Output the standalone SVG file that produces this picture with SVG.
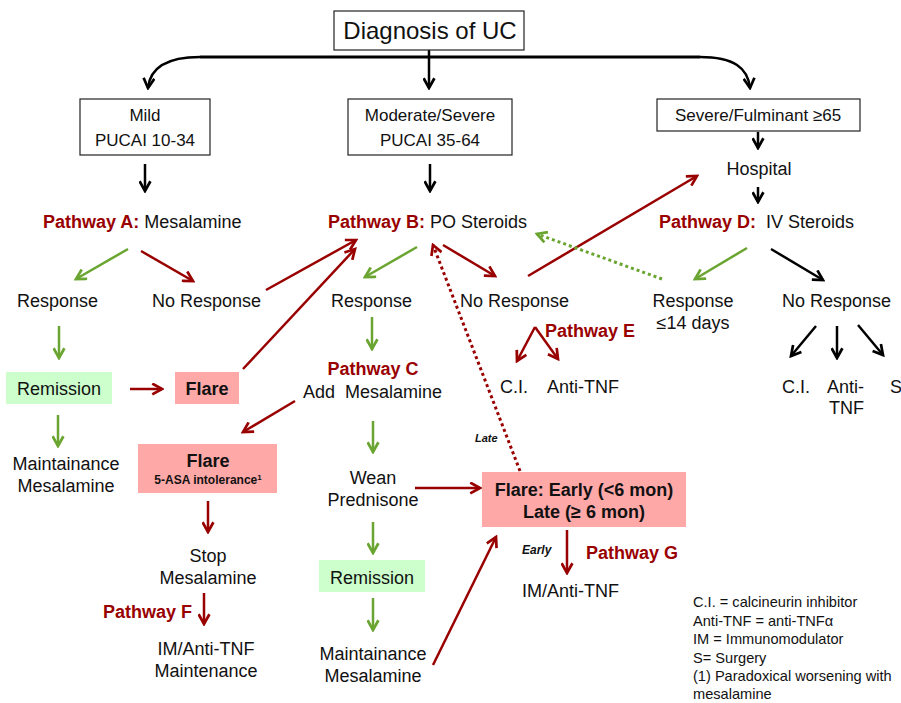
<svg xmlns="http://www.w3.org/2000/svg" width="901" height="703" viewBox="0 0 901 703">
<defs>
<style>
text{font-family:"Liberation Sans",Arial,sans-serif;font-size:18px;fill:#111}
.c{text-anchor:middle}
.b{font-weight:bold}
.r{fill:#990000;font-weight:bold}
.box{fill:#fff;stroke:#222;stroke-width:1.2}
.pink{fill:#ffa8a8}
.grn{fill:#ccffcc}
.k{stroke:#000;stroke-width:2.5;fill:none;marker-end:url(#ak)}
.kt{stroke:#000;stroke-width:3;fill:none}
.rd{stroke:#990000;stroke-width:2.5;fill:none;marker-end:url(#ar)}
.gr{stroke:#6aa531;stroke-width:2.5;fill:none;marker-end:url(#ag)}
.rdot{stroke:#990000;stroke-width:3;stroke-dasharray:3,3;fill:none;marker-end:url(#ar)}
.gdot{stroke:#6aa531;stroke-width:3;stroke-dasharray:3,3;fill:none;marker-end:url(#ag)}
.leg{font-size:14.6px}
.sm{font-size:12px;font-style:italic;font-weight:bold}
</style>
<marker id="ak" viewBox="0 0 12 12" refX="10" refY="6" markerWidth="13" markerHeight="13" markerUnits="userSpaceOnUse" orient="auto"><path d="M1,1 L10,6 L1,11" fill="none" stroke="#000" stroke-width="2.5"/></marker>
<marker id="ar" viewBox="0 0 12 12" refX="10" refY="6" markerWidth="13" markerHeight="13" markerUnits="userSpaceOnUse" orient="auto"><path d="M1,1 L10,6 L1,11" fill="none" stroke="#990000" stroke-width="2.5"/></marker>
<marker id="ag" viewBox="0 0 12 12" refX="10" refY="6" markerWidth="13" markerHeight="13" markerUnits="userSpaceOnUse" orient="auto"><path d="M1,1 L10,6 L1,11" fill="none" stroke="#6aa531" stroke-width="2.5"/></marker>
</defs>

<g id="connectors">
<path class="kt" d="M200,57 L700,57"/>
<path class="k" d="M200,57 C166,57 150,68 148,88"/>
<path class="k" d="M700,57 C734,57 748,68 750,88"/>
<path class="k" d="M429,50 L429,88"/>
<path class="k" d="M145,164 L145,191"/>
<path class="k" d="M430,164 L430,191"/>
<path class="k" d="M758,132 L758,148"/>
<path class="k" d="M758,187 L758,202"/>
<path class="gr" d="M128,249 L76,279"/>
<path class="rd" d="M141,251 L193,281"/>
<path class="gr" d="M59,326 L59,358"/>
<path class="rd" d="M130,389 L162,389"/>
<path class="gr" d="M58,415 L58,446"/>
<path class="rd" d="M266,290 L356,240"/>
<path class="rd" d="M243,369 L355,249"/>
<path class="gr" d="M417,247 L365,277"/>
<path class="rd" d="M443,245 L495,276"/>
<path class="gr" d="M372,317 L372,349"/>
<path class="rd" d="M295,401 L243,432"/>
<path class="rd" d="M208,501 L208,532"/>
<path class="rd" d="M204,593 L204,624"/>
<path class="gr" d="M373,421 L373,452"/>
<path class="rd" d="M415,488 L480,488"/>
<path class="gr" d="M373,522 L373,553"/>
<path class="gr" d="M373,598 L373,630"/>
<path class="rd" d="M433,665 L496,537"/>
<path class="rdot" d="M520,471 L433,245"/>
<path class="rd" d="M567,530 L567,573"/>
<path class="rd" d="M528,276 L697,176"/>
<path class="gdot" d="M662,279 L537,234"/>
<path class="rd" d="M535,327 L517,361"/>
<path class="rd" d="M535,327 L558,359"/>
<path class="gr" d="M747,248 L695,279"/>
<path class="k" d="M771,249 L823,280"/>
<path class="k" d="M816,326 L791,356"/>
<path class="k" d="M837,326 L837,358"/>
<path class="k" d="M858,325 L883,355"/>
</g>

<g id="diagnosis"><rect class="box" x="334" y="11" width="190" height="39"/><text class="c" x="430" y="39" style="font-size:24px">Diagnosis of UC</text></g>
<g id="mild"><rect class="box" x="80" y="99" width="130" height="56"/><text class="c" x="145" y="121" style="font-size:17px">Mild</text><text class="c" x="145" y="146" style="font-size:17px">PUCAI 10-34</text></g>
<g id="modsev"><rect class="box" x="348" y="99" width="164" height="56"/><text class="c" x="430" y="121" style="font-size:17px">Moderate/Severe</text><text class="c" x="430" y="146" style="font-size:17px">PUCAI 35-64</text></g>
<g id="sevful"><rect class="box" x="657" y="99" width="203" height="32"/><text class="c" x="758" y="121" style="font-size:17px">Severe/Fulminant ≥65</text></g>
<g id="hospital"><text class="c" x="759" y="175">Hospital</text></g>

<g id="pathwayA"><text x="43" y="228"><tspan class="r">Pathway A:</tspan> Mesalamine</text></g>
<g id="pathwayB"><text x="328" y="228"><tspan class="r">Pathway B:</tspan> PO Steroids</text></g>
<g id="pathwayD"><text x="659" y="228"><tspan class="r">Pathway D:</tspan>&#160; IV Steroids</text></g>

<g id="respA"><text x="17" y="307">Response</text></g>
<g id="noRespA"><text x="152" y="307">No Response</text></g>
<g id="respB"><text x="331" y="307">Response</text></g>
<g id="noRespB"><text x="460" y="307">No Response</text></g>
<g id="respD"><text class="c" x="693" y="307">Response</text><text class="c" x="693" y="329">≤14 days</text></g>
<g id="noRespD"><text x="782" y="307">No Response</text></g>

<g id="remissionA"><rect class="grn" x="6" y="372" width="106" height="32"/><text class="c" x="59" y="395">Remission</text></g>
<g id="flareA"><rect class="pink" x="175" y="372" width="64" height="32"/><text class="c b" x="207" y="395">Flare</text></g>
<g id="maintA"><text class="c" x="66" y="470">Maintainance</text><text class="c" x="66" y="492">Mesalamine</text></g>

<g id="pathwayC"><text class="c r" x="373" y="375">Pathway C</text><text x="303" y="398">Add&#160; Mesalamine</text></g>
<g id="flare5asa"><rect class="pink" x="138" y="444" width="139" height="49"/><text class="c b" x="208" y="467">Flare</text><text class="c b" x="208" y="484" style="font-size:12px">5-ASA intolerance<tspan dy="-4" style="font-size:8px">1</tspan></text></g>
<g id="stopMes"><text class="c" x="208" y="562">Stop</text><text class="c" x="208" y="584">Mesalamine</text></g>
<g id="pathwayF"><text x="103" y="618" class="r">Pathway F</text></g>
<g id="imMaint"><text class="c" x="206" y="655">IM/Anti-TNF</text><text class="c" x="206" y="677">Maintenance</text></g>

<g id="wean"><text class="c" x="373" y="484">Wean</text><text class="c" x="373" y="506">Prednisone</text></g>
<g id="remissionB"><rect class="grn" x="319" y="560" width="106" height="32"/><text class="c" x="372" y="584">Remission</text></g>
<g id="maintB"><text class="c" x="373" y="660">Maintainance</text><text class="c" x="373" y="682">Mesalamine</text></g>

<g id="flareEL"><rect class="pink" x="482" y="472" width="204" height="55"/><text class="c b" x="584" y="496">Flare: Early (&lt;6 mon)</text><text class="c b" x="584" y="518">Late (≥ 6 mon)</text></g>
<g id="lateLbl"><text class="sm" x="475" y="442" style="font-size:11px">Late</text></g>
<g id="earlyLbl"><text class="sm" x="522" y="554">Early</text></g>
<g id="pathwayG"><text class="r" x="586" y="559">Pathway G</text></g>
<g id="imG"><text x="522" y="597">IM/Anti-TNF</text></g>

<g id="pathwayE"><text class="r" x="545" y="337">Pathway E</text></g>
<g id="ciE"><text x="500" y="393">C.I.</text></g>
<g id="antiE"><text x="547" y="393">Anti-TNF</text></g>

<g id="ciD"><text x="782" y="393">C.I.</text></g>
<g id="antiD"><text x="827" y="393">Anti-</text><text x="829" y="414">TNF</text></g>
<g id="sD"><text x="890" y="393">S</text></g>

<g id="legend">
<text class="leg" x="693" y="607">C.I. = calcineurin inhibitor</text>
<text class="leg" x="693" y="626">Anti-TNF = anti-TNFα</text>
<text class="leg" x="693" y="644">IM = Immunomodulator</text>
<text class="leg" x="693" y="663">S= Surgery</text>
<text class="leg" x="693" y="681">(1) Paradoxical worsening with</text>
<text class="leg" x="693" y="699">mesalamine</text>
</g>
</svg>
